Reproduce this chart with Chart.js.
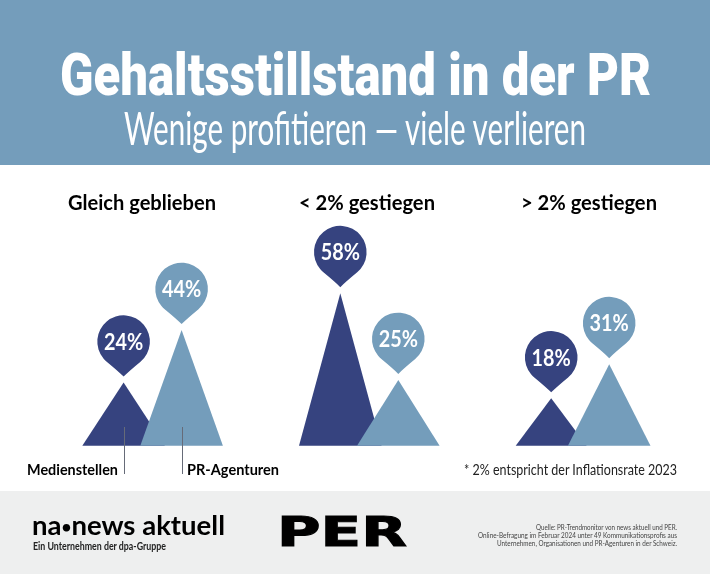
<!DOCTYPE html>
<html lang="de"><head><meta charset="utf-8">
<script src="https://cdn.jsdelivr.net/npm/chart.js@4/dist/chart.umd.js"></script>
<style>
html,body{margin:0;padding:0;background:#fff}
#page{position:relative;width:710px;height:574px;overflow:hidden}
#head{position:absolute;left:0;top:0;width:710px;height:165px;background:#749dbb}
#foot{position:absolute;left:0;top:491px;width:710px;height:83px;background:#eeefef}
canvas{position:absolute;left:0;top:0}
.t{position:absolute;white-space:nowrap;line-height:1;transform-origin:0 0}
.b{font-size:62%;vertical-align:2px}
</style></head><body>
<div id="page"><div id="head"></div><div id="foot"></div>
<canvas id="c" width="710" height="574"></canvas>
<div id="texts"></div></div>
<script>
const title = "Gehaltsstillstand in der PR";
const subtitle = "Wenige profitieren — viele verlieren";
const categories = ["Gleich geblieben", "< 2% gestiegen", "> 2% gestiegen"];
const seriesNames = ["Medienstellen", "PR-Agenturen"];
const medienstellen = [24, 58, 18];
const prAgenturen = [44, 25, 31];
const footnote = "* 2% entspricht der Inflationsrate 2023";
const sourceLines = ["Quelle: PR-Trendmonitor von news aktuell und PER.",
  "Online-Befragung im Februar 2024 unter 49 Kommunikationsprofis aus",
  "Unternehmen, Organisationen und PR-Agenturen in der Schweiz."];

const DARK = "#36437f", LIGHT = "#749dbb";
const groupShift = [-1.4, 1.3, -1.8];
const baseScale = [[1, 1, 0.86], [1, 1, 1]];

const triangles = {
  id: "triangles",
  beforeDatasetDraw() { return false; },
  afterDatasetsDraw(chart) {
    const ctx = chart.ctx;
    chart.data.datasets.forEach((ds, d) => {
      chart.getDatasetMeta(d).data.forEach((bar, i) => {
        const x = bar.x + groupShift[i], half = bar.width / 2 * baseScale[d][i];
        ctx.fillStyle = ds.backgroundColor;
        ctx.beginPath(); ctx.moveTo(x, bar.y);
        ctx.lineTo(x + half, bar.base); ctx.lineTo(x - half, bar.base);
        ctx.closePath(); ctx.fill();
      });
    });
    chart.data.datasets.forEach((ds, d) => {
      chart.getDatasetMeta(d).data.forEach((bar, i) => {
        const x = bar.x + groupShift[i], cy = bar.y - 41, r = 26.3, tip = bar.y - 6;
        const a = 40 * Math.PI / 180, ex = r * Math.sin(a), ey = r * Math.cos(a);
        ctx.fillStyle = ds.backgroundColor;
        ctx.beginPath();
        ctx.arc(x, cy, r, Math.PI / 2 - a, Math.PI / 2 + a, true);
        ctx.quadraticCurveTo(x - 5, cy + 30, x, tip);
        ctx.quadraticCurveTo(x + 5, cy + 30, x + ex, cy + ey);
        ctx.closePath(); ctx.fill();
        ctx.save();
        ctx.translate(x, cy + 1);
        ctx.scale(0.88, 1);
        ctx.fillStyle = "#fff"; ctx.font = "700 22.5px Lato";
        ctx.textAlign = "center"; ctx.textBaseline = "middle";
        ctx.fillText(ds.data[i] + "%", 0, 0);
        ctx.restore();
      });
      const first = chart.getDatasetMeta(d).data[0];
      ctx.strokeStyle = "#666b78"; ctx.lineWidth = 1;
      ctx.beginPath();
      ctx.moveTo(Math.round(first.x + groupShift[0]) + .5, 427);
      ctx.lineTo(Math.round(first.x + groupShift[0]) + .5, 474);
      ctx.stroke();
    });
  }
};

new Chart(document.getElementById("c"), {
  type: "bar",
  data: { labels: categories, datasets: [
    { label: seriesNames[0], data: medienstellen, backgroundColor: DARK },
    { label: seriesNames[1], data: prAgenturen, backgroundColor: LIGHT }
  ]},
  options: {
    responsive: false, animation: false, devicePixelRatio: 1,
    layout: { padding: { left: 47, right: 21, top: 182.7, bottom: 128.3 } },
    datasets: { bar: { categoryPercentage: 116 / 214, barPercentage: 1.424 } },
    plugins: { legend: { display: false }, tooltip: { enabled: false }, title: { display: false } },
    scales: {
      x: { display: false, offset: true },
      y: { display: false, min: 0, max: 100 }
    }
  },
  plugins: [triangles]
});

const box = document.getElementById("texts");
function put(text, x0, x1, top, font, color, stroke) {
  const s = document.createElement("div");
  s.className = "t";
  const parts = text.split("•");
  s.textContent = parts[0];
  if (parts.length > 1) {
    const b = document.createElement("span");
    b.className = "b"; b.textContent = "•";
    s.appendChild(b); s.appendChild(document.createTextNode(parts[1]));
  }
  s.style.font = font; s.style.lineHeight = "1"; s.style.color = color; s.style.left = x0 + "px"; s.style.top = top + "px";
  if (stroke) s.style.webkitTextStroke = stroke + "px " + color;
  box.appendChild(s);
  s.style.transform = "scaleX(" + (x1 - x0) / s.getBoundingClientRect().width + ")";
}
put(title, 60, 651, 45, "900 59px Roboto", "#fff");
put(subtitle, 124, 586, 104, "400 47px Lato", "#fff");
put(categories[0], 68, 216, 192, "700 20px Lato", "#000");
put(categories[1], 299, 435, 192, "700 20px Lato", "#000");
put(categories[2], 521, 657, 192, "700 20px Lato", "#000");
put(seriesNames[0], 27, 118, 461, "700 16px Lato", "#000");
put(seriesNames[1], 187, 279, 461, "700 16px Lato", "#000");
put(footnote, 464, 677, 462, "400 15px Lato", "#222");
put("na•news aktuell", 32, 225, 511, "700 27px Lato", "#000");
put("Ein Unternehmen der dpa-Gruppe", 33, 166, 541, "700 10.5px Lato", "#222");
put("PER", 277, 407, 512, "900 40px 'DejaVu Sans'", "#000", 1);
put(sourceLines[0], 536, 677, 524, "400 7.6px Lato", "#444");
put(sourceLines[1], 478, 677, 532, "400 7.6px Lato", "#444");
put(sourceLines[2], 497, 677, 540, "400 7.6px Lato", "#444");
</script></body></html>
